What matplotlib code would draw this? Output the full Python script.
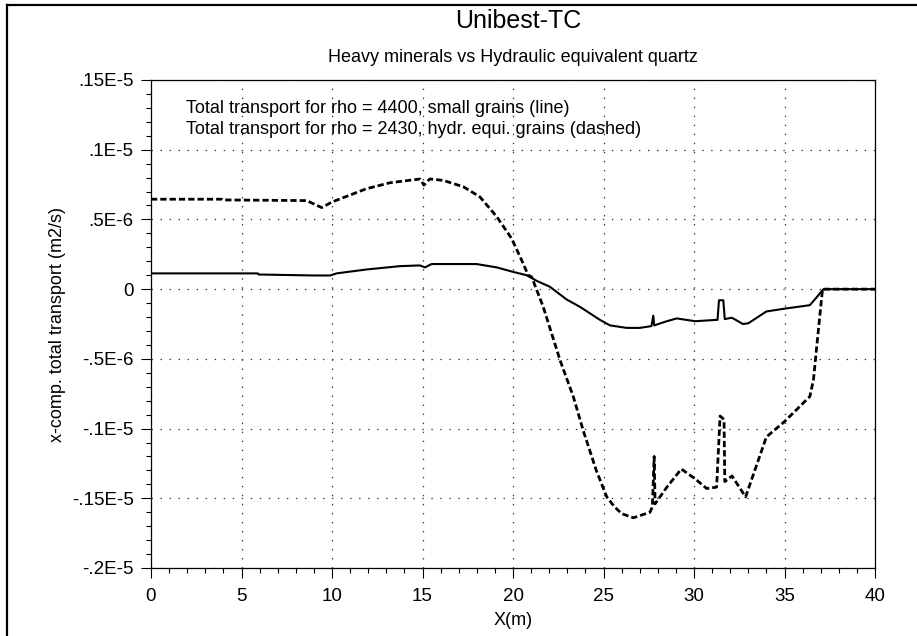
import matplotlib
matplotlib.use("Agg")
import matplotlib.pyplot as plt
from matplotlib.font_manager import fontManager
from matplotlib.lines import Line2D
from matplotlib.ticker import MultipleLocator

# フォント: Arial Narrow 風
names = {f.name for f in fontManager.ttflist}
if 'Liberation Sans Narrow' in names:
    plt.rcParams['font.family'] = ['Liberation Sans Narrow', 'DejaVu Sans']
else:
    plt.rcParams['font.family'] = ['Liberation Sans', 'DejaVu Sans']
plt.rcParams['lines.scale_dashes'] = False

SCALE = 1e-6  # 値は 1E-6 m2/s 単位

# rho = 4400, small grains (実線)
x_line = [0, 5.9, 5.95, 8.95, 9.9, 10.25, 11.9, 13.76, 14.86, 15.14, 15.5, 17.99,
          19.1, 20.0, 20.75, 21.3, 22.04, 22.96, 23.7, 24.8, 25.36, 26.28, 27.0,
          27.65, 27.75, 27.8, 28.5, 29.05, 30.06, 31.3, 31.38, 31.62, 31.7, 32.08,
          32.3, 32.7, 33.0, 34.0, 35.0, 36.4, 36.7, 37.15, 40]
y_line = [0.113, 0.113, 0.105, 0.098, 0.098, 0.113, 0.141, 0.165, 0.17, 0.156, 0.18, 0.18,
          0.156, 0.124, 0.10, 0.06, 0.017, -0.074, -0.127, -0.22, -0.26, -0.278, -0.278,
          -0.265, -0.19, -0.26, -0.23, -0.21, -0.23, -0.22, -0.08, -0.08, -0.215, -0.205,
          -0.22, -0.25, -0.245, -0.16, -0.14, -0.115, -0.07, 0.0, 0.0]

# rho = 2430, hydr. equi. grains (破線)
x_dash = [0, 3.9, 3.95, 8.6, 9.43, 10.0, 11.9, 13.2, 14.86, 15.08, 15.4, 16.15, 17.26,
          18.17, 19.1, 19.92, 20.47, 20.84, 21.03, 21.67, 22.6, 23.33, 23.87, 24.6, 25.18,
          25.6, 26.0, 26.65, 27.57, 27.7, 27.8, 27.85, 28.5, 29.3, 30.06, 30.7, 31.25,
          31.44, 31.66, 31.7, 32.1, 32.85, 34.0, 35.0, 36.4, 36.6, 36.77, 37.1, 40]
y_dash = [0.645, 0.645, 0.64, 0.635, 0.585, 0.625, 0.72, 0.763, 0.79, 0.746, 0.79, 0.78, 0.734,
          0.662, 0.52, 0.364, 0.21, 0.10, 0.088, -0.127, -0.51, -0.77, -1.01, -1.30, -1.49,
          -1.56, -1.61, -1.64, -1.60, -1.56, -1.20, -1.54, -1.42, -1.29, -1.36, -1.43, -1.42,
          -0.91, -0.935, -1.38, -1.34, -1.49, -1.06, -0.95, -0.77, -0.65, -0.425, 0.0, 0.0]

y_ticks = [1.5, 1.0, 0.5, 0, -0.5, -1.0, -1.5, -2.0]
y_tick_labels = ['.15E-5', '.1E-5', '.5E-6', '0', '-.5E-6', '-.1E-5', '-.15E-5', '-.2E-5']
x_ticks = [0, 5, 10, 15, 20, 25, 30, 35, 40]

fig = plt.figure(figsize=(9.17, 6.36), dpi=100)
ax = fig.add_axes([151 / 917, 1 - 568 / 636, 724 / 917, 488 / 636])

ax.plot(x_line, [v * SCALE for v in y_line], color='black', lw=1.5)
ax.plot(x_dash, [v * SCALE for v in y_dash], color='black', lw=2.0, dashes=(4.5, 2.2))

ax.set_xlim(0, 40)
ax.set_ylim(-2.0 * SCALE, 1.5 * SCALE)
ax.set_xticks(x_ticks)
ax.set_xticklabels([str(t) for t in x_ticks])
ax.set_yticks([t * SCALE for t in y_ticks])
ax.set_yticklabels(y_tick_labels)
ax.xaxis.set_minor_locator(MultipleLocator(1))
ax.yaxis.set_minor_locator(MultipleLocator(0.1 * SCALE))
ax.tick_params(which='major', direction='out', length=7.5, width=0.8, labelsize=13.5)
ax.tick_params(axis='x', which='major', pad=7)
ax.tick_params(axis='y', which='major', pad=5)
ax.tick_params(which='minor', direction='out', length=3.8, width=0.8)
ax.tick_params(top=False, right=False, which='both')
ax.grid(True, which='major', color='#333333', linestyle=(0, (1, 5.5)), lw=0.9)
for s in ax.spines.values():
    s.set_linewidth(0.9)

ax.set_xlabel('X(m)', fontsize=13, labelpad=5)
ax.set_ylabel('x-comp. total transport (m2/s)', fontsize=13, labelpad=4)

ax.text(0.048, 0.96, 'Total transport for rho = 4400, small grains (line)',
        transform=ax.transAxes, fontsize=13, va='top', ha='left')
ax.text(0.048, 0.917, 'Total transport for rho = 2430, hydr. equi. grains (dashed)',
        transform=ax.transAxes, fontsize=13, va='top', ha='left')

fig.text(518 / 917, 1 - 21 / 636, 'Unibest-TC', fontsize=18, ha='center', va='center')
fig.text(513 / 917, 1 - 58 / 636, 'Heavy minerals vs Hydraulic equivalent quartz',
         fontsize=13, ha='center', va='center')

# 外枠 (上と左)
fig.add_artist(Line2D([7 / 917, 1.0], [1 - 5 / 636, 1 - 5 / 636], color='black', lw=1.6))
fig.add_artist(Line2D([7 / 917, 7 / 917], [0.0, 1 - 5 / 636], color='black', lw=1.6))

fig.savefig('out.png', dpi=100)
